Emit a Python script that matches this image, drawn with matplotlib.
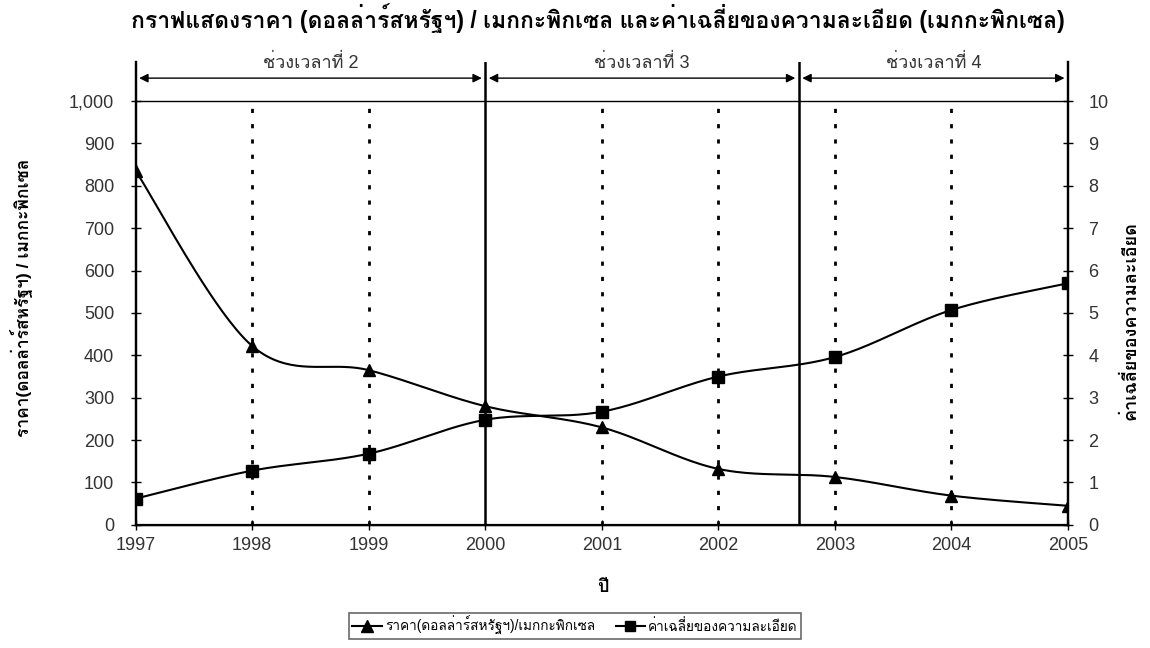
import matplotlib
matplotlib.use("Agg")
import matplotlib.pyplot as plt
from matplotlib import font_manager
from matplotlib.ft2font import FT2Font
from matplotlib.lines import Line2D
import numpy as np

# ---- data ----
years = [1997, 1998, 1999, 2000, 2001, 2002, 2003, 2004, 2005]
price = [835, 422, 365, 280, 230, 132, 113, 69, 45]           # USD per megapixel
resolution = [0.62, 1.28, 1.68, 2.48, 2.67, 3.50, 3.96, 5.07, 5.70]  # megapixel
dotted_years = [1998, 1999, 2001, 2002, 2003, 2004]
period_bounds = [1997, 2000, 2002.69, 2005]
period_labels = ["ช่วงเวลาที่ 2", "ช่วงเวลาที่ 3", "ช่วงเวลาที่ 4"]
left_ticks = [0, 100, 200, 300, 400, 500, 600, 700, 800, 900, 1000]
right_ticks = [0, 1, 2, 3, 4, 5, 6, 7, 8, 9, 10]

title = "กราฟแสดงราคา (ดอลล่าร์สหรัฐฯ) / เมกกะพิกเซล และค่าเฉลี่ยของความละเอียด (เมกกะพิกเซล)"
xlabel = "ปี"
ylabel_left = "ราคา(ดอลล่าร์สหรัฐฯ) / เมกกะพิกเซล"
ylabel_right = "ค่าเฉลี่ยของความละเอียด"
legend_price = "ราคา(ดอลล่าร์สหรัฐฯ)/เมกกะพิกเซล"
legend_res = "ค่าเฉลี่ยของความละเอียด"


def thai_families():
    """Installed families that carry Thai glyphs, preferred ones first."""
    found = []
    for f in font_manager.fontManager.ttflist:
        try:
            cmap = FT2Font(f.fname).get_charmap()
        except Exception:
            continue
        if 0x0E01 in cmap and 0x0E48 in cmap and f.name not in found:
            found.append(f.name)
    preferred = [n for n in ["Loma", "Tahoma", "Noto Sans Thai"] if n in found]
    return preferred + [n for n in found if n not in preferred]


thai = thai_families()[:3]
plt.rcParams["font.family"] = ["Liberation Sans"] + thai + ["DejaVu Sans"]
plt.rcParams["lines.scale_dashes"] = False


def smooth(xs, ys, n=40):
    """Cubic Bezier smoothing through every point (Catmull-Rom tangents)."""
    xs = np.asarray(xs, float)
    ys = np.asarray(ys, float)
    P = np.column_stack([xs, ys])
    P = np.vstack([P[0], P, P[-1]])
    t = np.linspace(0, 1, n)[:, None]
    out = []
    for i in range(len(xs) - 1):
        p0, p1, p2, p3 = P[i], P[i + 1], P[i + 2], P[i + 3]
        c1 = p1 + (p2 - p0) / 6.0
        c2 = p2 - (p3 - p1) / 6.0
        seg = ((1 - t) ** 3) * p1 + 3 * ((1 - t) ** 2) * t * c1 + 3 * (1 - t) * t ** 2 * c2 + t ** 3 * p2
        out.append(seg if i == 0 else seg[1:])
    out = np.vstack(out)
    return out[:, 0], out[:, 1]


TOP = 1092
fig = plt.figure(figsize=(11.5, 6.48), dpi=100)
ax = fig.add_axes([0.118, 0.19, 0.8107, 0.7143])
ax2 = ax.twinx()

ax.set_xlim(1997, 2005)
ax.set_ylim(0, TOP)
ax2.set_ylim(0, TOP / 100.0)

tick_color = "#333333"
for a in (ax, ax2):
    for s in a.spines.values():
        s.set_linewidth(1.6)
        s.set_color("black")
    a.spines["top"].set_visible(False)
ax.spines["bottom"].set_linewidth(1.0)

ax.set_xticks(years)
ax.set_xticklabels([str(y) for y in years])
ax.set_yticks(left_ticks)
ax.set_yticklabels([f"{v:,}" for v in left_ticks])
ax2.set_yticks(right_ticks)
ax2.set_yticklabels([str(v) for v in right_ticks])

ax.tick_params(axis="y", direction="inout", length=7, width=1, pad=12,
               labelsize=13, labelcolor=tick_color)
ax.tick_params(axis="x", direction="inout", length=7, width=1, pad=5,
               labelsize=13, labelcolor=tick_color)
ax2.tick_params(axis="y", direction="inout", length=7, width=1, pad=11,
                labelsize=13, labelcolor=tick_color)

# guide lines
ax.axhline(1000, color="black", lw=1.0, zorder=1)
ax.vlines(dotted_years, 0, 1000, colors="black", lw=2.0,
          linestyles=[(0, (3.0, 8.0))], zorder=1)
for b in period_bounds[1:-1]:
    ax.axvline(b, color="black", lw=1.8, zorder=1)

# period arrows and labels
arrow_y = 1054
gap = 0.03
for i, lab in enumerate(period_labels):
    x0, x1 = period_bounds[i], period_bounds[i + 1]
    ax.annotate("", xy=(x1 - gap, arrow_y), xytext=(x0 + gap, arrow_y),
                arrowprops=dict(arrowstyle="<|-|>", color="black", lw=1.0,
                                mutation_scale=13, shrinkA=0, shrinkB=0))
    ax.text((x0 + x1) / 2, TOP - 2, lab, ha="center", va="center",
            fontsize=13, color=tick_color)

# series
sx, sy = smooth(years, price)
ax.plot(sx, sy, color="black", lw=1.5, zorder=3)
ax.plot(years, price, ls="none", marker="^", ms=9, color="black", zorder=4)

rx, ry = smooth(years, resolution)
ax2.plot(rx, ry, color="black", lw=1.5, zorder=3)
ax2.plot(years, resolution, ls="none", marker="s", ms=8.5, color="black", zorder=4)

fig.text(0.52, 0.972, title, ha="center", va="center", fontsize=16.5, fontweight="bold")
fig.text(0.524, 0.094, xlabel, ha="center", va="center", fontsize=13, fontweight="bold")
fig.text(0.019, 0.54, ylabel_left, ha="center", va="center", rotation=90,
         fontsize=12.5, fontweight="bold")
fig.text(0.983, 0.505, ylabel_right, ha="center", va="center", rotation=90,
         fontsize=13, fontweight="bold")

handles = [Line2D([], [], color="black", lw=1.5, marker="^", ms=8),
           Line2D([], [], color="black", lw=1.5, marker="s", ms=7)]
leg = fig.legend(handles, [legend_price, legend_res], loc="lower center",
                 bbox_to_anchor=(0.5, 0.004), ncol=2, fontsize=9.8, frameon=True,
                 fancybox=False, edgecolor="#444444", handlelength=2.2,
                 handletextpad=0.2, columnspacing=1.5, borderpad=0.25)
leg.get_frame().set_linewidth(1.2)

fig.savefig("out.png", dpi=100, facecolor="white")
